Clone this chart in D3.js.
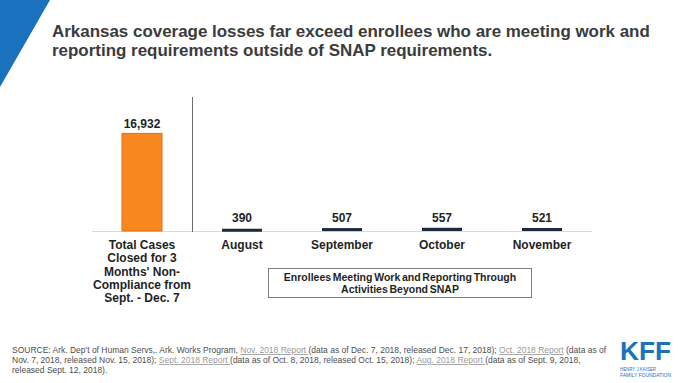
<!DOCTYPE html>
<html><head><meta charset="utf-8">
<script src="https://cdn.jsdelivr.net/npm/d3@7"></script>
<style>body{margin:0;background:#fff;} svg{display:block;font-family:"Liberation Sans",Arial,sans-serif;}</style>
</head><body>
<script>
const categories = ["Total Cases\nClosed for 3\nMonths' Non-\nCompliance from\nSept. - Dec. 7", "August", "September", "October", "November"];
const values = [16932, 390, 507, 557, 521];
const valueLabels = ["16,932", "390", "507", "557", "521"];
const titleLines = ["Arkansas coverage losses far exceed enrollees who are meeting work and", "reporting requirements outside of SNAP requirements."];
const boxLines = ["Enrollees Meeting Work and Reporting Through", "Activities Beyond SNAP"];
const sourceLines = [
  [["SOURCE:  Ark. Dep't of Human Servs,.  Ark. Works Program, ",0],["Nov. 2018 Report ",1],["(data as of Dec. 7, 2018, released Dec. 17, 2018); ",0],["Oct. 2018 Report",1],[" (data as of",0]],
  [["Nov. 7, 2018, released Nov. 15, 2018); ",0],["Sept. 2018 Report ",1],["(data as of Oct. 8, 2018, released Oct. 15, 2018); ",0],["Aug. 2018 Report ",1],["(data as of Sept. 9, 2018,",0]],
  [["released Sept. 12, 2018).",0]]
];

const W = 680, H = 383;
const svg = d3.select("body").append("svg").attr("width", W).attr("height", H);
const blue = "#1a72bf";

// corner triangle
svg.append("path").attr("d", d3.line()([[0,0],[50,0],[0,87]]) + "Z").attr("fill", blue);

// title
const title = svg.append("g");
titleLines.forEach((t,i) => {
  title.append("text").attr("x", 52).attr("y", 37 + i*18.5)
    .attr("font-size", 16).attr("font-weight", "bold").attr("fill", "#3b3b3b").text(t);
});
{
  const n = title.select("text").node();
  const w = n.getComputedTextLength();
  const fs = 16 * 598 / w;
  title.selectAll("text").attr("font-size", fs);
}

// scales
const x = d3.scaleBand().domain(d3.range(categories.length)).range([92, 592]).paddingInner(0.6).paddingOuter(0.3);
const y = d3.scaleLinear().domain([0, 17000]).range([231, 133]);

// baseline
svg.append("line").attr("x1", 92).attr("x2", 592).attr("y1", y(0)+0.5).attr("y2", y(0)+0.5)
  .attr("stroke", "#d9d9d9").attr("stroke-width", 1);

// divider
svg.append("line").attr("x1", 192.5).attr("x2", 192.5).attr("y1", 97).attr("y2", 232)
  .attr("stroke", "#6b6b6b").attr("stroke-width", 1);

// bars
svg.selectAll("rect.bar").data(values).join("rect").attr("class","bar")
  .attr("x", (d,i) => x(i)).attr("width", x.bandwidth())
  .attr("y", d => y(d)).attr("height", d => Math.max(3, y(0) - y(d)))
  .attr("fill", (d,i) => i === 0 ? "#f7871e" : "#1d2b3c")
  .attr("stroke", (d,i) => i === 0 ? "#d9731a" : "none").attr("stroke-width", 1);

// value labels
svg.selectAll("text.val").data(values).join("text").attr("class","val")
  .attr("x", (d,i) => x(i) + x.bandwidth()/2)
  .attr("y", (d,i) => Math.min(y(d), y(0) - 3) - (i===0 ? 5 : 6))
  .attr("text-anchor", "middle").attr("font-size", 12).attr("font-weight", "bold").attr("fill", "#1f1f1f")
  .text((d,i) => valueLabels[i]);

// category labels
categories.forEach((c,i) => {
  const t = svg.append("text").attr("text-anchor","middle").attr("font-size", 12).attr("font-weight","bold").attr("fill","#1f1f1f");
  c.split("\n").forEach((line,j) => {
    t.append("tspan").attr("x", x(i) + x.bandwidth()/2).attr("y", 249 + j*13.3).text(line);
  });
});

// box
svg.append("rect").attr("x", 268.5).attr("y", 268.5).attr("width", 263).attr("height", 29)
  .attr("fill", "none").attr("stroke", "#7f7f7f").attr("stroke-width", 1);
boxLines.forEach((t,i) => {
  svg.append("text").attr("x", 400).attr("y", 281 + i*12).attr("text-anchor","middle")
    .attr("font-size", 10.5).attr("font-weight","bold").attr("word-spacing", -1.2).attr("fill","#1f1f1f").text(t);
});

// source
const src = svg.append("g");
sourceLines.forEach((parts,i) => {
  const t = src.append("text").attr("x", 12).attr("y", 353 + i*10).attr("font-size", 9).attr("fill", "#4d4d4d");
  parts.forEach(([s,link]) => {
    const sp = t.append("tspan").text(s);
    if (link) sp.attr("fill", "#9a9a9a").attr("text-decoration", "underline");
  });
});
{
  const n = src.select("text").node();
  const w = n.getComputedTextLength();
  const fs = 9 * 595 / w;
  src.selectAll("text").attr("font-size", fs);
}

// logo
const logo = svg.append("g");
logo.append("text").attr("x", 620).attr("y", 360).attr("font-size", 25).attr("font-weight","bold")
  .attr("fill", blue).attr("textLength", 51).attr("lengthAdjust","spacingAndGlyphs").text("KFF");
logo.append("text").attr("x", 620).attr("y", 371).attr("font-size", 4.5).attr("fill", blue)
  .attr("textLength", 36).attr("lengthAdjust","spacingAndGlyphs").text("HENRY J KAISER");
logo.append("text").attr("x", 620).attr("y", 377).attr("font-size", 4.5).attr("fill", blue)
  .attr("textLength", 51).attr("lengthAdjust","spacingAndGlyphs").text("FAMILY FOUNDATION");
</script>
</body></html>
